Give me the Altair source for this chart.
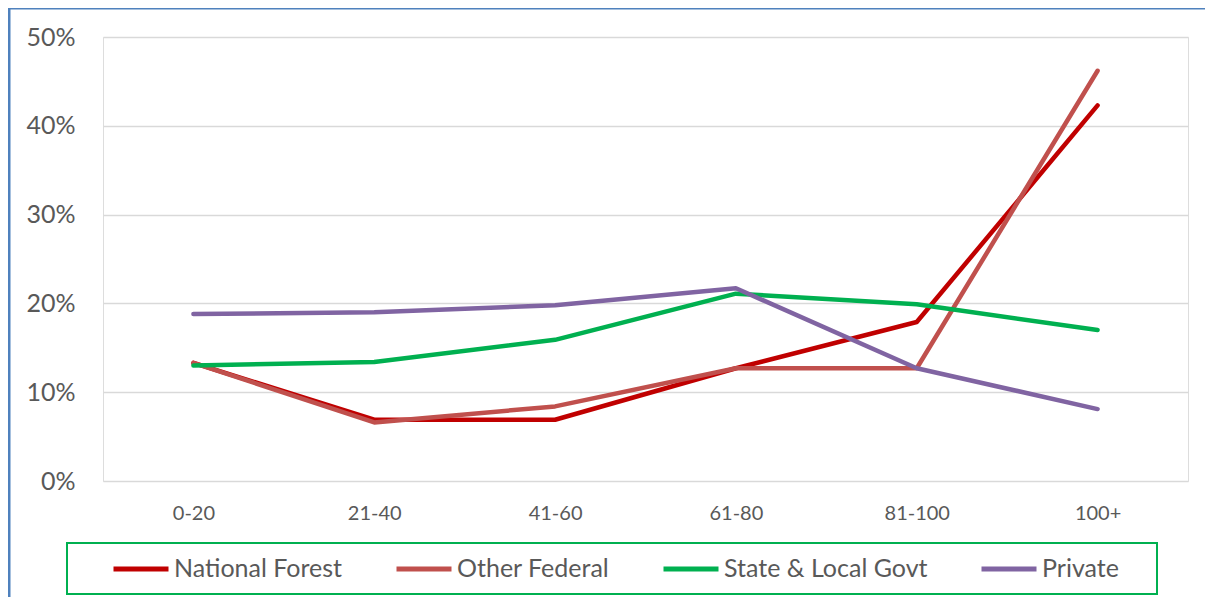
import altair as alt
import pandas as pd

categories = ["0-20", "21-40", "41-60", "61-80", "81-100", "100+"]
series_names = ["National Forest", "Other Federal", "State & Local Govt", "Private"]
national_forest = [0.133, 0.069, 0.069, 0.127, 0.179, 0.423]
other_federal = [0.133, 0.066, 0.084, 0.127, 0.127, 0.462]
state_local = [0.130, 0.134, 0.159, 0.211, 0.199, 0.170]
private = [0.188, 0.190, 0.198, 0.217, 0.127, 0.081]
colors = ["#C00000", "#C0504D", "#00B050", "#8064A2"]
y_ticks = [0, 0.1, 0.2, 0.3, 0.4, 0.5]

rows = []
for name, vals in zip(series_names, [national_forest, other_federal, state_local, private]):
    for i, (c, v) in enumerate(zip(categories, vals)):
        rows.append({"age": c, "share": v, "owner": name, "order": i})
df = pd.DataFrame(rows)

FONT = "Lato"
GRAY = "#595959"

lines = alt.Chart(df).mark_line(strokeWidth=4.5, strokeCap="round", strokeJoin="round").encode(
    x=alt.X("age:N", sort=categories,
            scale=alt.Scale(type="point", padding=0.5),
            axis=alt.Axis(title=None, labelAngle=0, labelFont=FONT, labelFontSize=20,
                          labelColor=GRAY, labelPadding=22, ticks=False, domain=False,
                          grid=False)),
    y=alt.Y("share:Q", scale=alt.Scale(domain=[0, 0.5], nice=False),
            axis=alt.Axis(title=None, values=y_ticks, format=".0%", labelFont=FONT,
                          labelFontSize=25, labelColor=GRAY, labelPadding=28,
                          ticks=False, domain=False, grid=True, gridColor="#D9D9D9",
                          gridWidth=1.5)),
    color=alt.Color("owner:N", sort=series_names,
                    scale=alt.Scale(domain=series_names, range=colors),
                    legend=alt.Legend(title=None, orient="none", direction="horizontal",
                                      legendX=8, legendY=502,
                                      symbolType="stroke", symbolSize=3025,
                                      symbolStrokeWidth=5, labelFont=FONT,
                                      labelFontSize=25, labelColor=GRAY, labelOffset=3,
                                      columnPadding=43, padding=0, labelLimit=400)),
    order="order:Q",
    detail="owner:N",
)

box = alt.Chart(alt.Data(values=[{"k": 1}])).mark_rect(
    fill=None, stroke="#00B050", strokeWidth=2
).encode(x=alt.value(-36), x2=alt.value(1054), y=alt.value(506), y2=alt.value(557))

left_border = alt.Chart(alt.Data(values=[{"k": 1}])).mark_rule(
    color="#4F81BD", strokeWidth=3
).encode(x=alt.value(-94), y=alt.value(-29), y2=alt.value(570))

top_border = alt.Chart(alt.Data(values=[{"k": 1}])).mark_rule(
    color="#4F81BD", strokeWidth=3
).encode(x=alt.value(-95), x2=alt.value(1120), y=alt.value(-29))

chart = alt.layer(lines, box, left_border, top_border).properties(
    width=1085, height=444,
    autosize=alt.AutoSizeParams(type="none"),
    padding={"left": 95, "top": 29, "right": 17, "bottom": 116},
).configure_view(stroke=None).configure(background="white")

chart.save("out.html", embed_options={"renderer": "svg", "actions": False})
